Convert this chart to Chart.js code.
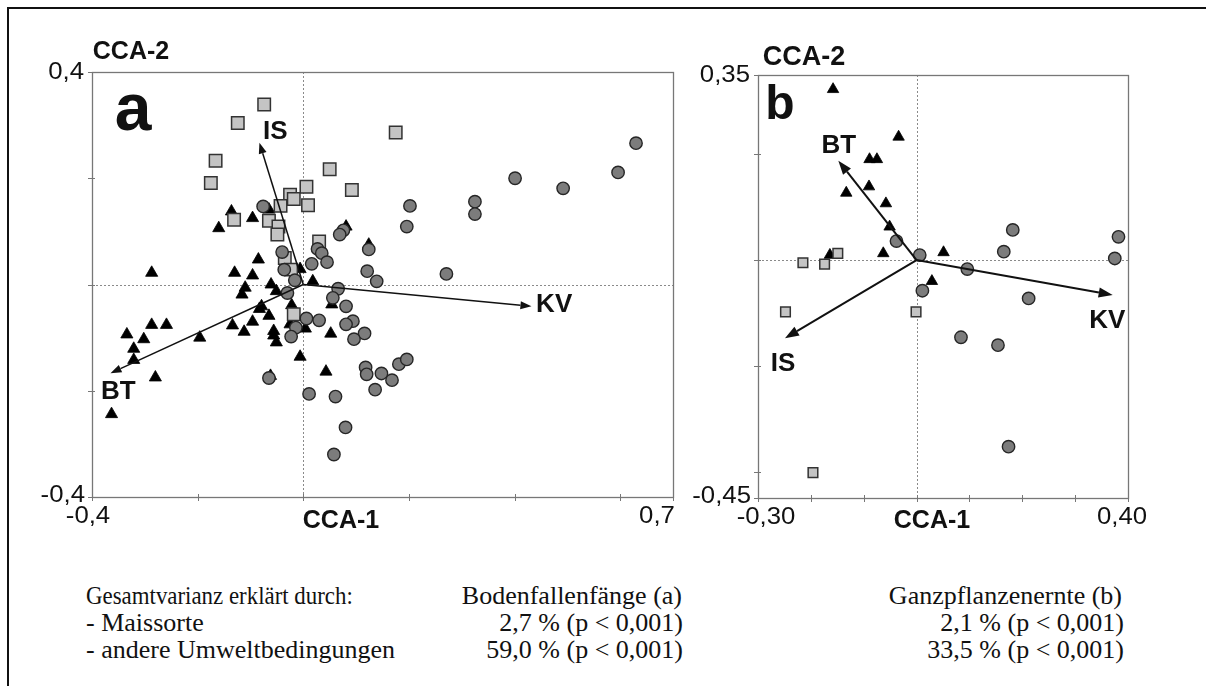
<!DOCTYPE html>
<html>
<head>
<meta charset="utf-8">
<script src="https://cdn.jsdelivr.net/npm/chart.js@4"></script>
<style>
  body { margin: 0; background: #fff; width: 1206px; height: 686px; overflow: hidden; position: relative; }
  #frame { position: absolute; left: 7px; top: 7px; width: 1220px; height: 700px; border-top: 2px solid #111; border-left: 2px solid #111; }
  #boxA { position: absolute; left: 0; top: 0; width: 700px; height: 560px; }
  #boxB { position: absolute; left: 640px; top: 0; width: 566px; height: 560px; }
  .t { position: absolute; font-family: "Liberation Serif", "Times New Roman", serif; font-size: 26px; color: #111; white-space: nowrap; line-height: 1; }
  .r { text-align: right; }
  .narrow { transform: scaleX(0.88); transform-origin: left center; }
</style>
</head>
<body>
<div id="frame"></div>
<div id="boxA"><canvas id="chartA"></canvas></div>
<div id="boxB"><canvas id="chartB"></canvas></div>

<div class="t narrow" style="left:86px; top:583px;">Gesamtvarianz erklärt durch:</div>
<div class="t" style="left:86px; top:610px;">- Maissorte</div>
<div class="t" style="left:86px; top:637px;">- andere Umweltbedingungen</div>
<div class="t r" style="right:524px; top:583px;">Bodenfallenfänge (a)</div>
<div class="t r" style="right:523px; top:610px;" id="a1"></div>
<div class="t r" style="right:523px; top:637px;" id="a2"></div>
<div class="t r" style="right:84px; top:583px;">Ganzpflanzenernte (b)</div>
<div class="t r" style="right:82px; top:610px;" id="b1"></div>
<div class="t r" style="right:82px; top:637px;" id="b2"></div>

<script>
// ---- panel a: Bodenfallenfaenge ----
const squaresA = [[-0.074,0.339],[-0.124,0.304],[0.175,0.286],[-0.166,0.233],[-0.175,0.191],[0.050,0.217],
  [0.006,0.184],[0.092,0.178],[-0.025,0.169],[-0.018,0.161],[0.009,0.149],[-0.043,0.148],[-0.131,0.122],
  [-0.065,0.120],[-0.047,0.109],[-0.049,0.094],[0.030,0.081],[-0.035,0.050],[-0.023,0.028],[-0.018,-0.056]];
const trianglesA = [[-0.136,0.1375],[-0.065,0.141],[-0.096,0.125],[-0.160,0.106],[0.081,0.109],[0.124,0.075],
  [-0.287,0.022],[-0.085,0.047],[-0.130,0.022],[-0.096,0.017],[-0.006,0.029],[0.018,0.006],[-0.061,0.0],
  [-0.110,-0.006],[-0.116,-0.019],[-0.051,-0.0125],[-0.079,-0.041],[-0.083,-0.046],[-0.022,-0.039],
  [0.054,-0.0375],[-0.065,-0.059],[-0.096,-0.070],[-0.134,-0.077],[-0.112,-0.089],[-0.056,-0.0875],
  [-0.056,-0.096],[-0.051,-0.109],[-0.025,-0.075],[0.004,-0.083],[0.052,-0.0925],[-0.196,-0.100],
  [-0.259,-0.076],[-0.287,-0.076],[-0.334,-0.094],[-0.302,-0.103],[-0.321,-0.121],[-0.321,-0.142],
  [-0.280,-0.175],[-0.006,-0.136],[0.043,-0.164],[-0.363,-0.244],[-0.062,-0.172]];
const circlesA = [[0.630,0.266],[0.596,0.211],[0.401,0.200],[0.492,0.181],[0.325,0.156],[0.325,0.1325],
  [0.202,0.148],[0.196,0.109],[0.271,0.020],[0.076,0.102],[0.069,0.094],[0.124,0.066],[0.121,0.025],
  [0.139,0.006],[-0.076,0.147],[-0.040,0.061],[-0.036,0.028],[0.027,0.067],[0.035,0.059],[0.045,0.042],
  [0.016,0.039],[-0.016,0.008],[-0.030,-0.016],[0.066,-0.008],[0.056,-0.025],[0.081,-0.041],
  [0.094,-0.069],[0.081,-0.075],[0.006,-0.064],[0.030,-0.0675],[-0.014,-0.081],[-0.023,-0.098],
  [0.116,-0.092],[0.096,-0.103],[0.118,-0.156],[0.120,-0.169],[0.148,-0.1675],[0.181,-0.150],
  [0.196,-0.141],[0.168,-0.180],[0.136,-0.198],[-0.065,-0.176],[0.011,-0.206],[0.061,-0.211],
  [0.080,-0.269],[0.058,-0.320]];
const arrowsA = [
  { name: 'IS', tip: [-0.083, 0.267], label: [-0.053, 0.288] },
  { name: 'KV', tip: [0.432, -0.041], label: [0.475, -0.039] },
  { name: 'BT', tip: [-0.365, -0.167], label: [-0.350, -0.202] }
];
const xTicksA = [-0.4, -0.2, 0, 0.2, 0.4, 0.6, 0.7];
const yTicksA = [-0.4, -0.2, 0, 0.2, 0.4];

// ---- panel b: Ganzpflanzenernte ----
const squaresB = [[-0.149,0.0126],[-0.215,-0.005],[-0.174,-0.0076],[-0.248,-0.098],[-0.001,-0.098],[-0.196,-0.402]];
const trianglesB = [[-0.158,0.323],[-0.034,0.233],[-0.089,0.1905],[-0.075,0.1905],[-0.133,0.127],[-0.090,0.139],
  [-0.058,0.107],[-0.051,0.063],[-0.063,0.0126],[-0.164,0.0095],[0.051,0.0145],[0.029,-0.040]];
const circlesB = [[-0.038,0.036],[0.006,0.0095],[0.182,0.057],[0.165,0.0158],[0.382,0.044],[0.375,0.003],
  [0.096,-0.017],[0.011,-0.058],[0.212,-0.0726],[0.084,-0.146],[0.154,-0.161],[0.174,-0.353]];
const arrowsB = [
  { name: 'BT', tip: [-0.148, 0.188], label: [-0.147, 0.216] },
  { name: 'IS', tip: [-0.249, -0.148], label: [-0.2525, -0.196] },
  { name: 'KV', tip: [0.371, -0.066], label: [0.361, -0.115] }
];
const xTicksB = [-0.3, -0.2, -0.1, 0, 0.1, 0.2, 0.3, 0.4];
const yTicksB = [-0.45, -0.4, -0.2, 0, 0.2, 0.35];

// explained variance table
const varianceA = ['2,7 % (p < 0,001)', '59,0 % (p < 0,001)'];
const varianceB = ['2,1 % (p < 0,001)', '33,5 % (p < 0,001)'];
document.getElementById('a1').textContent = varianceA[0];
document.getElementById('a2').textContent = varianceA[1];
document.getElementById('b1').textContent = varianceB[0];
document.getElementById('b2').textContent = varianceB[1];

const toPts = arr => arr.map(p => ({ x: p[0], y: p[1] }));

function txt(ctx, s, x, y, font, align, sx) {
  ctx.save();
  ctx.font = font;
  ctx.fillStyle = '#111';
  ctx.textBaseline = 'middle';
  ctx.translate(x, y);
  ctx.scale(sx || 1, 1);
  ctx.textAlign = align;
  ctx.fillText(s, 0, 0);
  ctx.restore();
}

function arrow(ctx, x0, y0, x1, y1, lw, hl, hw) {
  const a = Math.atan2(y1 - y0, x1 - x0);
  const bx = x1 - Math.cos(a) * hl, by = y1 - Math.sin(a) * hl;
  ctx.save();
  ctx.strokeStyle = '#111';
  ctx.fillStyle = '#111';
  ctx.lineWidth = lw;
  ctx.beginPath();
  ctx.moveTo(x0, y0);
  ctx.lineTo(bx, by);
  ctx.stroke();
  ctx.beginPath();
  ctx.moveTo(x1, y1);
  ctx.lineTo(bx + Math.sin(a) * hw / 2, by - Math.cos(a) * hw / 2);
  ctx.lineTo(bx - Math.sin(a) * hw / 2, by + Math.cos(a) * hw / 2);
  ctx.closePath();
  ctx.fill();
  ctx.restore();
}

// box, zero lines, ticks and axis texts, drawn through the chart's scales
function biplotPlugin(cfg) {
  return {
    id: 'biplot',
    beforeDatasetsDraw(chart) {
      const { ctx, chartArea: ca, scales: { x, y } } = chart;
      ctx.save();
      ctx.strokeStyle = '#8a8a8a';
      ctx.lineWidth = 1;
      ctx.setLineDash([2, 2]);
      const x0 = Math.round(x.getPixelForValue(0)) + 0.5;
      const y0 = Math.round(y.getPixelForValue(0)) + 0.5;
      ctx.beginPath();
      ctx.moveTo(x0, ca.top); ctx.lineTo(x0, ca.bottom);
      ctx.moveTo(ca.left, y0); ctx.lineTo(ca.right, y0);
      ctx.stroke();
      ctx.restore();
    },
    afterDatasetsDraw(chart) {
      const { ctx, scales: { x, y } } = chart;
      const ox = x.getPixelForValue(0), oy = y.getPixelForValue(0);
      cfg.arrows.forEach(a => {
        arrow(ctx, ox, oy, x.getPixelForValue(a.tip[0]), y.getPixelForValue(a.tip[1]), cfg.lw, cfg.hl, cfg.hw);
        txt(ctx, a.name, x.getPixelForValue(a.label[0]), y.getPixelForValue(a.label[1]), 'bold 26px "Liberation Sans", Arial', 'center');
      });
    },
    afterDraw(chart) {
      const { ctx, chartArea: ca, scales: { x, y } } = chart;
      ctx.save();
      ctx.strokeStyle = '#777';
      ctx.lineWidth = 1.3;
      ctx.strokeRect(Math.round(ca.left) + 0.5, Math.round(ca.top) + 0.5, Math.round(ca.right - ca.left), Math.round(ca.bottom - ca.top));
      ctx.lineWidth = 1;
      ctx.beginPath();
      cfg.xTicks.forEach(v => {
        const px = Math.round(x.getPixelForValue(v)) + 0.5;
        ctx.moveTo(px, ca.bottom - 3); ctx.lineTo(px, ca.bottom + 4);
      });
      cfg.yTicks.forEach(v => {
        const py = Math.round(y.getPixelForValue(v)) + 0.5;
        ctx.moveTo(ca.left - 4, py); ctx.lineTo(ca.left + 3, py);
      });
      ctx.stroke();
      ctx.restore();

      const tf = '23px "Liberation Sans", Arial';
      const sx = 1.12;
      const xs = cfg.xTicks, ys = cfg.yTicks;
      const fmt = v => v.toFixed(cfg.dec).replace('.', ',');
      txt(ctx, fmt(ys[ys.length - 1]), ca.left - 8, y.getPixelForValue(ys[ys.length - 1]) + 1, tf, 'right', sx);
      txt(ctx, fmt(ys[0]), ca.left - 7, y.getPixelForValue(ys[0]) - 1, tf, 'right', sx);
      txt(ctx, fmt(xs[0]), x.getPixelForValue(xs[0]) + cfg.xl, ca.bottom + 20, tf, 'center', sx);
      txt(ctx, fmt(xs[xs.length - 1]), x.getPixelForValue(xs[xs.length - 1]) + cfg.xr, ca.bottom + 20, tf, 'center', sx);
      txt(ctx, 'CCA-1', cfg.cca1[0], cfg.cca1[1], 'bold 25px "Liberation Sans", Arial', 'center');
      txt(ctx, 'CCA-2', cfg.cca2[0], cfg.cca2[1], cfg.cca2[2], 'center');
      txt(ctx, cfg.letter, cfg.letterPos[0], cfg.letterPos[1], cfg.letterFont, 'center');
    }
  };
}

function makeChart(id, w, h, pad, data, cfg) {
  const canvas = document.getElementById(id);
  canvas.width = w; canvas.height = h;
  canvas.style.width = w + 'px'; canvas.style.height = h + 'px';
  return new Chart(canvas, {
    type: 'scatter',
    data: {
      datasets: [
        { label: 'circles', data: toPts(data.circles), pointStyle: 'circle', pointRadius: cfg.rc,
          backgroundColor: '#7c7c7c', borderColor: '#262626', borderWidth: 1.4, order: 0 },
        { label: 'squares', data: toPts(data.squares), pointStyle: 'rect', pointRadius: cfg.rs,
          backgroundColor: '#c4c4c4', borderColor: '#333', borderWidth: 1.5, order: 1 },
        { label: 'triangles', data: toPts(data.triangles), pointStyle: 'triangle', pointRadius: cfg.rt,
          backgroundColor: '#000', borderColor: '#000', borderWidth: 0.8, order: 2 }
      ]
    },
    options: {
      responsive: false,
      animation: false,
      layout: { padding: pad },
      plugins: { legend: { display: false }, tooltip: { enabled: false } },
      scales: {
        x: { type: 'linear', display: false, min: cfg.xTicks[0], max: cfg.xTicks[cfg.xTicks.length - 1] },
        y: { type: 'linear', display: false, min: cfg.yTicks[0], max: cfg.yTicks[cfg.yTicks.length - 1] }
      }
    },
    plugins: [biplotPlugin(cfg)]
  });
}

makeChart('chartA', 700, 560, { left: 92, top: 72, right: 27, bottom: 63 },
  { circles: circlesA, squares: squaresA, triangles: trianglesA },
  { arrows: arrowsA, xTicks: xTicksA, yTicks: yTicksA, dec: 1, lw: 1.5, hl: 11, hw: 8,
    rc: 6.2, rs: 8.8, rt: 7, xl: -4, xr: -16,
    cca1: [341, 521], cca2: [131, 52, 'bold 25px "Liberation Sans", Arial'],
    letter: 'a', letterPos: [133, 112], letterFont: 'bold 66px "Liberation Sans", Arial' });

makeChart('chartB', 566, 560, { left: 118, top: 75, right: 78, bottom: 62 },
  { circles: circlesB, squares: squaresB, triangles: trianglesB },
  { arrows: arrowsB, xTicks: xTicksB, yTicks: yTicksB, dec: 2, lw: 2, hl: 14, hw: 10,
    rc: 6.2, rs: 6.8, rt: 6.6, xl: 8, xr: -6,
    cca1: [292, 521], cca2: [164, 58, 'bold 27px "Liberation Sans", Arial'],
    letter: 'b', letterPos: [140, 106], letterFont: 'bold 48px "Liberation Sans", Arial' });
</script>
</body>
</html>
